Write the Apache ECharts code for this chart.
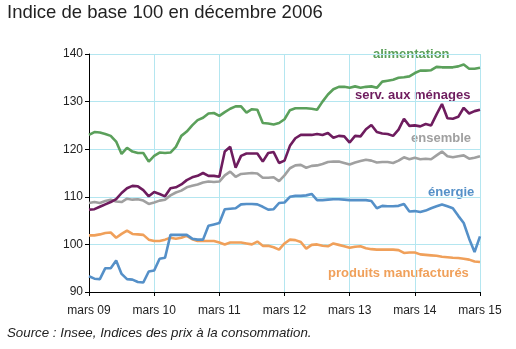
<!DOCTYPE html>
<html>
<head>
<meta charset="utf-8">
<script src="https://cdn.jsdelivr.net/npm/echarts@6/dist/echarts.min.js"></script>
<style>
  html, body { margin: 0; padding: 0; background: #fff; }
  #chart { width: 516px; height: 349px; }
</style>
</head>
<body>
<div id="chart"></div>
<script>
// Monthly price indices, base 100 = December 2006, from March 2009 to March 2015
const monthNames = ['mars', 'avr.', 'mai', 'juin', 'juil.', 'août', 'sept.', 'oct.', 'nov.', 'déc.', 'janv.', 'févr.'];
const firstYear = 2009;
const monthCount = 73;

const alimentation = [
  123.0, 123.6, 123.5, 123.2, 122.8, 121.6, 119.0, 120.3, 119.5, 119.2, 119.2, 117.4,
  118.6, 119.3, 119.2, 119.3, 120.5, 122.8, 123.7, 125.0, 126.1, 126.6, 127.5, 127.6,
  127.0, 127.8, 128.5, 129.0, 129.0, 127.7, 128.4, 128.3, 125.5, 125.4, 125.2, 125.5,
  126.3, 128.2, 128.6, 128.6, 128.6, 128.5, 128.3, 130.0, 131.5, 132.6, 133.1, 133.1,
  132.9, 133.2, 132.9, 133.1, 133.2, 132.9, 134.2, 134.4, 134.6, 135.0, 135.1, 135.3,
  136.0, 136.5, 136.5, 136.6, 137.3, 137.2, 137.2, 137.2, 137.4, 137.8, 136.9, 136.9,
  137.1
];
const servMenages = [
  107.3, 107.4, 107.9, 108.4, 108.9, 109.5, 110.8, 111.8, 112.3, 112.2, 111.4, 110.1,
  111.0, 110.6, 110.1, 111.8, 112.0, 112.6, 113.5, 114.1, 114.4, 115.0, 114.4, 114.4,
  114.2, 119.5, 120.5, 116.1, 118.6, 119.1, 119.1, 119.1, 117.4, 119.2, 119.4, 117.1,
  117.6, 120.7, 122.3, 123.0, 123.0, 123.0, 123.2, 123.0, 123.4, 122.4, 122.8, 122.7,
  121.4, 122.8, 122.7, 124.2, 125.1, 123.6, 123.3, 123.2, 122.8, 124.1, 126.4, 124.9,
  125.0, 124.8, 125.3, 125.0, 127.3, 129.5, 126.5, 126.4, 126.8, 128.7, 127.5, 128.0,
  128.3
];
const ensemble = [
  108.7, 108.9, 108.7, 109.1, 109.4, 109.0, 108.9, 109.6, 109.4, 109.5, 109.2, 108.5,
  108.8, 109.2, 109.4, 110.3, 110.9, 111.3, 112.0, 112.3, 112.6, 113.0, 113.2, 113.1,
  113.2, 114.5, 115.3, 114.2, 114.8, 114.9, 115.0, 114.9, 114.0, 114.0, 114.1, 113.3,
  114.5, 116.0, 116.6, 116.7, 116.1, 116.5, 116.6, 116.9, 117.3, 117.4, 117.4, 117.1,
  116.8, 117.2, 117.5, 117.8, 117.6, 117.2, 117.3, 117.3, 117.1, 117.6, 118.3, 117.9,
  118.2, 117.9, 118.0, 117.9, 118.7, 119.5, 118.5, 118.3, 118.5, 118.7, 118.0, 118.2,
  118.5
];
const energie = [
  93.3, 92.8, 92.7, 95.0, 95.0, 96.6, 93.8, 92.7, 92.6, 92.1, 92.0, 94.3,
  94.5, 97.0, 97.2, 102.0, 102.0, 102.0, 102.0, 101.2, 101.0, 101.0, 103.9, 104.2,
  104.5, 107.4, 107.5, 107.6, 108.4, 108.5, 108.5, 108.4, 107.9, 107.3, 107.4, 108.7,
  108.8, 110.0, 110.2, 110.2, 110.3, 110.6, 109.3, 109.3, 109.4, 109.5, 109.5, 109.4,
  109.3, 109.3, 109.3, 109.3, 109.1, 107.6, 108.1, 108.0, 108.0, 108.1, 108.5, 106.9,
  107.0, 106.8, 107.1, 107.6, 108.0, 108.4, 108.0, 107.6, 106.0, 104.5, 101.2, 98.4,
  101.7
];
const produitsManufactures = [
  101.9, 101.9, 102.1, 102.4, 102.5, 101.4, 102.2, 102.9, 102.2, 102.1, 102.0, 101.0,
  100.7, 100.7, 101.0, 101.4, 101.2, 101.4, 101.8, 101.1, 100.7, 100.7, 100.7, 100.7,
  100.4, 100.0, 100.4, 100.4, 100.4, 100.2, 100.0, 100.6, 99.7, 99.7, 99.4, 98.9,
  100.2, 101.0, 100.9, 100.5, 99.1, 99.9, 100.0, 99.7, 99.6, 100.2, 99.9, 99.6,
  99.3, 99.5, 99.6, 99.2, 99.0, 98.9, 98.9, 98.9, 98.9, 98.8, 98.2, 98.3,
  98.3, 97.9, 97.8, 97.7, 97.6, 97.4, 97.3, 97.2, 97.15, 97.0, 96.8, 96.4,
  96.3
];
const yTicks = { min: 90, max: 140, step: 10 };

const months = [];
for (let i = 0; i < monthCount; i++) {
  const name = monthNames[i % 12];
  const year = firstYear + Math.floor((i + 2) / 12);
  months.push(name + ' ' + String(year % 100).padStart(2, '0'));
}

const C_GREEN = '#5ba05b';
const C_PURPLE = '#6e1c5e';
const C_GRAY = '#a0a0a0';
const C_BLUE = '#5590c8';
const C_ORANGE = '#f0a05a';
const C_GRID = '#b4e6f0';

const isYearTick = (idx) => idx % 12 === 0;

function line(name, data, color) {
  return {
    name, type: 'line', data,
    symbol: 'none', smooth: false,
    lineStyle: { color, width: 2.6 },
    itemStyle: { color },
    animation: false
  };
}

const labelFont = 'bold 13px "Liberation Sans", Arial, sans-serif';
function tag(text, x, y, color) {
  return {
    type: 'text', left: x, top: y,
    style: { text, fill: color, font: labelFont }
  };
}

const chart = echarts.init(document.getElementById('chart'), null, { renderer: 'canvas' });
chart.setOption({
  backgroundColor: '#fff',
  animation: false,
  grid: { left: 89, right: 36, top: 54, bottom: 57 },
  xAxis: {
    type: 'category', data: months, boundaryGap: false,
    axisLine: { lineStyle: { color: '#000', width: 1 } },
    axisTick: { show: true, interval: (i) => isYearTick(i), length: 4, lineStyle: { color: '#000' } },
    axisLabel: {
      interval: (i) => isYearTick(i), color: '#222', margin: 13,
      fontFamily: '"Liberation Sans", Arial, sans-serif', fontSize: 12,
      showMaxLabel: true
    },
    splitLine: { show: true, interval: (i) => isYearTick(i) && i > 0, lineStyle: { color: C_GRID, width: 1 } }
  },
  yAxis: {
    type: 'value', min: yTicks.min, max: yTicks.max, interval: yTicks.step,
    axisLine: { show: true, lineStyle: { color: '#000', width: 1 } },
    axisTick: { show: true, length: 4, lineStyle: { color: '#000' } },
    axisLabel: { color: '#222', margin: 6, fontFamily: '"Liberation Sans", Arial, sans-serif', fontSize: 12 },
    splitLine: { show: true, lineStyle: { color: C_GRID, width: 1 } }
  },
  series: [
    line('produits manufacturés', produitsManufactures, C_ORANGE),
    line('énergie', energie, C_BLUE),
    line('ensemble', ensemble, C_GRAY),
    line('serv. aux ménages', servMenages, C_PURPLE),
    line('alimentation', alimentation, C_GREEN)
  ],
  graphic: [
    { type: 'text', left: 7, top: 3,
      style: { text: 'Indice de base 100 en décembre 2006', fill: '#222', font: '18.5px "Liberation Sans", Arial, sans-serif' } },
    { type: 'text', left: 7, top: 327,
      style: { text: 'Source : Insee, Indices des prix à la consommation.', fill: '#222', font: 'italic 13.3px "Liberation Sans", Arial, sans-serif' } },
    tag('alimentation', 373, 48, C_GREEN),
    tag('serv. aux ménages', 355, 89, C_PURPLE),
    tag('ensemble', 411, 132, C_GRAY),
    tag('énergie', 428, 186, C_BLUE),
    tag('produits manufacturés', 328, 267, C_ORANGE)
  ]
});
</script>
</body>
</html>
